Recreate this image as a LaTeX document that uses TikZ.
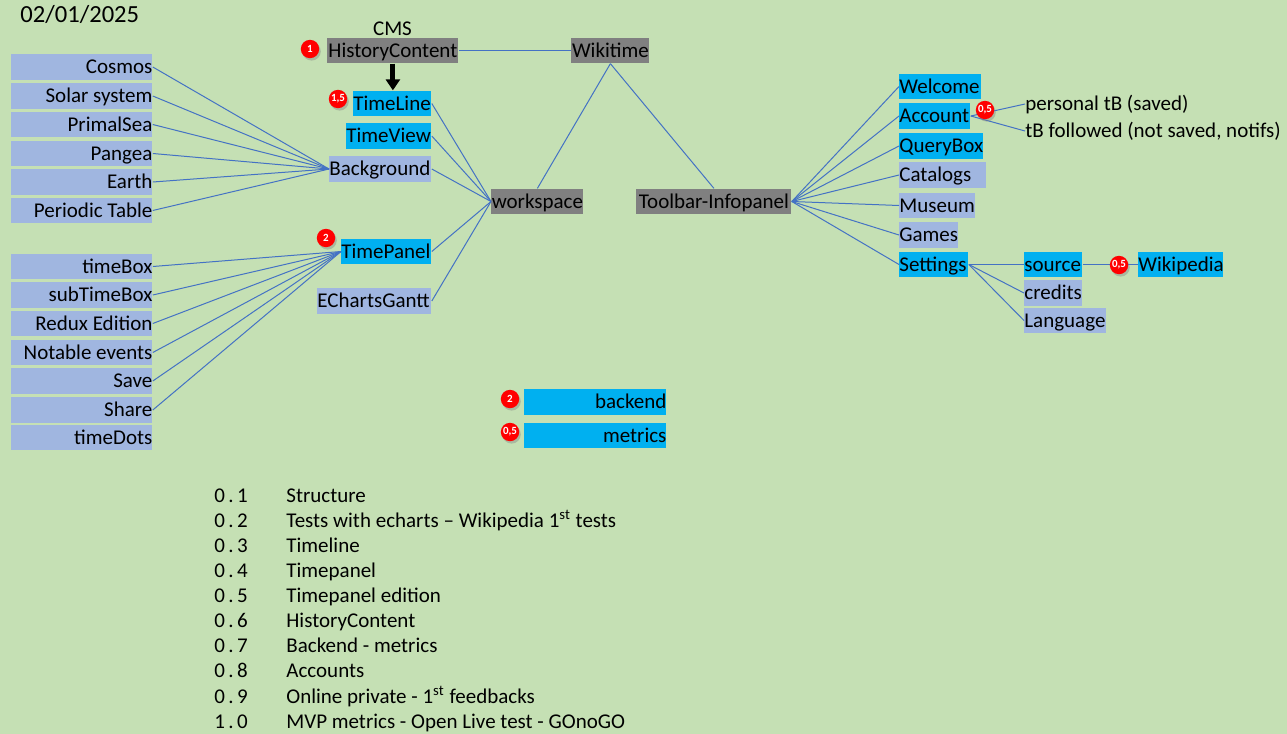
\documentclass[tikz,border=0pt]{standalone}
\usepackage{fontspec}
\setmainfont{Carlito}
\usetikzlibrary{arrows.meta,shadows}
\definecolor{sheet}{HTML}{C5E0B4}
\definecolor{cyanfill}{HTML}{00B0F0}
\definecolor{lavfill}{HTML}{A0B6E0}
\definecolor{greyfill}{HTML}{808080}
\definecolor{linkcol}{HTML}{4472C4}
\newcommand\ver[2]{#1\kern1.7pt.\kern1.7pt#2}

\begin{document}
\begin{tikzpicture}[x=0.5pt,y=-0.5pt,
	every node/.style={font=\fontsize{10.5}{12.6}\selectfont},
	box/.style={anchor=west,inner sep=0pt,minimum height=12.75pt,text height=6.76pt,text depth=0pt,align=flush left},
	lavbox/.style={box,fill=lavfill},
	cyanbox/.style={box,fill=cyanfill},
	greybox/.style={box,fill=greyfill},
	plain/.style={anchor=west,inner sep=0pt,text height=6.76pt,text depth=0pt},
	badge/.style={circle,fill=red,text=white,inner sep=0pt,minimum size=9.2pt,font=\fontsize{5.5}{6}\selectfont\bfseries,drop shadow={shadow xshift=0.8pt,shadow yshift=-1.2pt,opacity=0.4}},
	link/.style={draw=linkcol,line width=0.5pt}]
	% sheet - must be drawn before the rest!
	\fill[sheet] (0,0) rectangle (1287,734);
	\useasboundingbox (0,0) rectangle (1287,734);
	% date
	\node[plain,font=\fontsize{12.3}{14}\selectfont,text height=7.9pt] (date) at (20,15) {02/01/2025};
	% left column
	\node[lavbox,text width=70.5pt,align=flush right] (cosmos) at (11,67) {Cosmos};
	\node[lavbox,text width=70.5pt,align=flush right] (solar) at (11,96) {Solar system};
	\node[lavbox,text width=70.5pt,align=flush right] (primal) at (11,124.5) {PrimalSea};
	\node[lavbox,text width=70.5pt,align=flush right] (pangea) at (11,153.5) {Pangea};
	\node[lavbox,text width=70.5pt,align=flush right] (earth) at (11,182) {Earth};
	\node[lavbox,text width=70.5pt,align=flush right] (periodic) at (11,210.5) {Periodic Table};
	\node[lavbox,text width=70.5pt,align=flush right] (timebox) at (11,266.5) {timeBox};
	\node[lavbox,text width=70.5pt,align=flush right] (subtimebox) at (11,295) {subTimeBox};
	\node[lavbox,text width=70.5pt,align=flush right] (redux) at (11,323.5) {Redux Edition};
	\node[lavbox,text width=70.5pt,align=flush right] (notable) at (11,352.5) {Notable events};
	\node[lavbox,text width=70.5pt,align=flush right] (save) at (11,381) {Save};
	\node[lavbox,text width=70.5pt,align=flush right] (share) at (11,410) {Share};
	\node[lavbox,text width=70.5pt,align=flush right] (timedots) at (11,437.5) {timeDots};
	% workspace parts
	\node[plain,anchor=center] (cms) at (392.5,29) {CMS};
	\node[greybox,text width=65.5pt,align=flush center] (histc) at (327,50.5) {HistoryContent};
	\node[cyanbox,text width=39pt] (timeline) at (353,103.5) {TimeLine};
	\node[cyanbox,text width=42.5pt] (timeview) at (346,136) {TimeView};
	\node[lavbox,text width=51pt] (background) at (329,169) {Background};
	\node[cyanbox,text width=45pt] (timepanel) at (341,251.5) {TimePanel};
	\node[lavbox,text width=57pt] (echarts) at (317,301) {EChartsGantt};
	% top and hubs
	\node[greybox,text width=39pt,align=flush center] (wikitime) at (571,50.5) {Wikitime};
	\node[greybox,text width=46pt,align=flush center] (workspace) at (491,201.5) {workspace};
	\node[greybox,text width=77.5pt,align=flush center] (toolbar) at (636,201.5) {Toolbar-Infopanel};
	% toolbar parts
	\node[cyanbox,text width=41pt] (welcome) at (899,86.5) {Welcome};
	\node[cyanbox,text width=35.5pt] (account) at (899,116) {Account};
	\node[cyanbox,text width=42pt] (querybox) at (899,146) {QueryBox};
	\node[lavbox,text width=43.5pt] (catalogs) at (899,175) {Catalogs};
	\node[lavbox,text width=38pt] (museum) at (899,205.5) {Museum};
	\node[lavbox,text width=29.5pt] (games) at (899,235) {Games};
	\node[cyanbox,text width=34.5pt] (settings) at (899,264.5) {Settings};
	\node[plain] (personal) at (1025,104) {personal tB (saved)};
	\node[plain] (followed) at (1025,131) {tB followed (not saved, notifs)};
	\node[cyanbox,text width=29pt] (source) at (1024,264.5) {source};
	\node[lavbox,text width=29pt] (credits) at (1024,293) {credits};
	\node[lavbox,text width=41pt] (language) at (1024,320.5) {Language};
	\node[cyanbox,text width=42.5pt] (wikipedia) at (1138,264.5) {Wikipedia};
	% backend
	\node[cyanbox,text width=71pt,align=flush right] (backend) at (524,402) {backend};
	\node[cyanbox,text width=71pt,align=flush right] (metrics) at (524,435.5) {metrics};
	% links
	\draw[link] (cosmos.east) -- (background.west);
	\draw[link] (solar.east) -- (background.west);
	\draw[link] (primal.east) -- (background.west);
	\draw[link] (pangea.east) -- (background.west);
	\draw[link] (earth.east) -- (background.west);
	\draw[link] (periodic.east) -- (background.west);
	\draw[link] (timebox.east) -- (timepanel.west);
	\draw[link] (subtimebox.east) -- (timepanel.west);
	\draw[link] (redux.east) -- (timepanel.west);
	\draw[link] (notable.east) -- (timepanel.west);
	\draw[link] (save.east) -- (timepanel.west);
	\draw[link] (share.east) -- (timepanel.west);
	\draw[link] (timeline.east) -- (workspace.west);
	\draw[link] (timeview.east) -- (workspace.west);
	\draw[link] (background.east) -- (workspace.west);
	\draw[link] (timepanel.east) -- (workspace.west);
	\draw[link] (echarts.east) -- (workspace.west);
	\draw[link] (histc.east) -- (wikitime.west);
	\draw[link] (wikitime.south) -- (workspace.north);
	\draw[link] (wikitime.south) -- (toolbar.north);
	\draw[link] (toolbar.east) -- (welcome.west);
	\draw[link] (toolbar.east) -- (account.west);
	\draw[link] (toolbar.east) -- (querybox.west);
	\draw[link] (toolbar.east) -- (catalogs.west);
	\draw[link] (toolbar.east) -- (museum.west);
	\draw[link] (toolbar.east) -- (games.west);
	\draw[link] (toolbar.east) -- (settings.west);
	\draw[link] (account.east) -- (personal.west);
	\draw[link] (account.east) -- (followed.west);
	\draw[link] (settings.east) -- (source.west);
	\draw[link] (settings.east) -- (credits.west);
	\draw[link] (settings.east) -- (language.west);
	\draw[link] (source.east) -- (wikipedia.west);
	% HistoryContent feeds TimeLine
	\draw[line width=2.5pt,-{Triangle[width=7pt,length=5.5pt]}] (histc.south) -- (histc.south |- timeline.north);
	% estimates
	\node[badge] (esthistc) at (310,49) {1};
	\node[badge] (esttimeline) at (338,99) {1,5};
	\node[badge] (esttimepanel) at (326,238) {2};
	\node[badge] (estaccount) at (985,110) {0,5};
	\node[badge] (estsource) at (1119,265) {0,5};
	\node[badge] (estbackend) at (510,399) {2};
	\node[badge] (estmetrics) at (510,432) {0,5};
	% versions
	\node[plain] (v01) at (214,495.5) {\ver01};
	\node[plain] (v02) at (214,520.6) {\ver02};
	\node[plain] (v03) at (214,545.7) {\ver03};
	\node[plain] (v04) at (214,570.8) {\ver04};
	\node[plain] (v05) at (214,595.9) {\ver05};
	\node[plain] (v06) at (214,621) {\ver06};
	\node[plain] (v07) at (214,646.1) {\ver07};
	\node[plain] (v08) at (214,671.2) {\ver08};
	\node[plain] (v09) at (214,696.3) {\ver09};
	\node[plain] (v10) at (214,721.4) {\ver10};
	\node[plain] (i01) at (286,495.5) {Structure};
	\node[plain] (i02) at (286,520.6) {Tests with echarts -- Wikipedia 1\textsuperscript{st} tests};
	\node[plain] (i03) at (286,545.7) {Timeline};
	\node[plain] (i04) at (286,570.8) {Timepanel};
	\node[plain] (i05) at (286,595.9) {Timepanel edition};
	\node[plain] (i06) at (286,621) {HistoryContent};
	\node[plain] (i07) at (286,646.1) {Backend - metrics};
	\node[plain] (i08) at (286,671.2) {Accounts};
	\node[plain] (i09) at (286,696.3) {Online private - 1\textsuperscript{st} feedbacks};
	\node[plain] (i10) at (286,721.4) {MVP metrics - Open Live test - GOnoGO};
\end{tikzpicture}
\end{document}
